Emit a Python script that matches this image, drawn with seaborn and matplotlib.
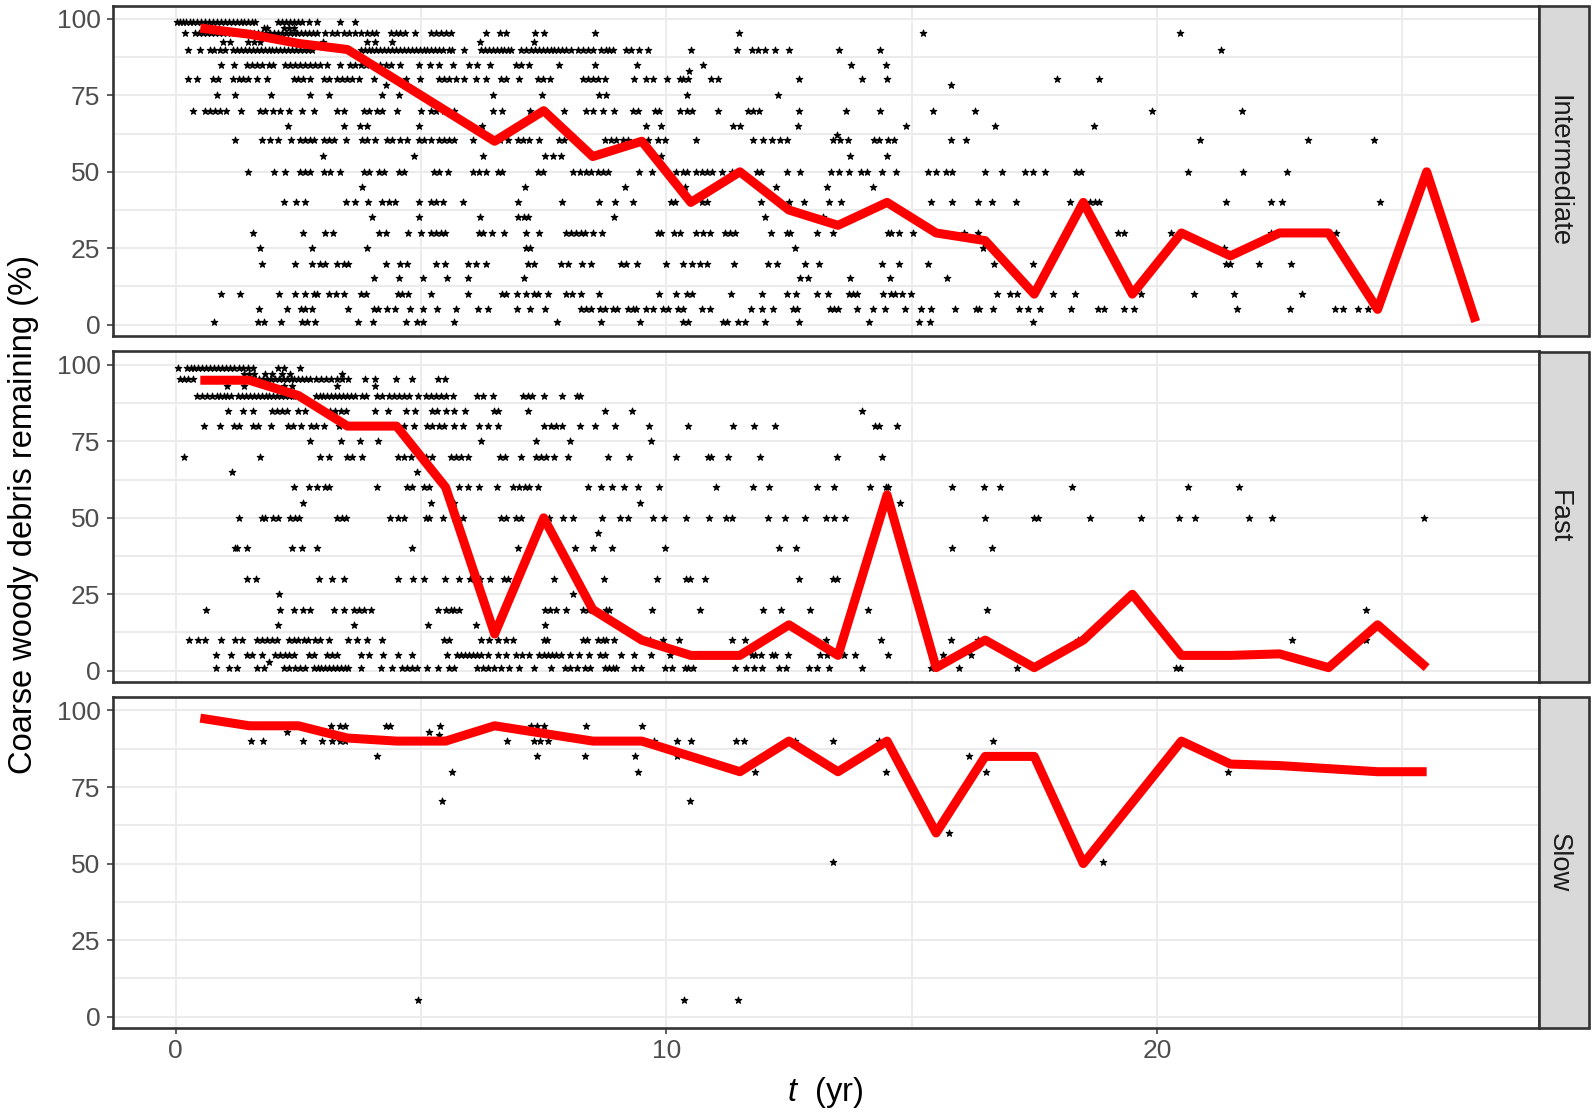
import pandas as pd
import matplotlib
matplotlib.use('Agg')
import matplotlib.pyplot as plt
from matplotlib.patches import Rectangle
import seaborn as sns

# Red line: median remaining per one-year bin
bin_int = [0.5, 1.5, 2.5, 3.5, 4.5, 5.5, 6.5, 7.5, 8.5, 9.5, 10.5, 11.5, 12.5, 13.5, 14.5, 15.5, 16.5, 17.5, 18.5, 19.5, 20.5, 21.5, 22.5, 23.5, 24.5, 25.5, 26.5]
bin_short = bin_int[:-1]
line_int = [97, 95, 92, 90, 80, 70, 60, 70, 55, 60, 40, 50, 37.5, 32.5, 40, 30, 27.5, 10, 40, 10, 30, 22.5, 30, 30, 5, 50, 1]
line_fast = [95, 95, 90, 80, 80, 60, 12, 50, 20, 10, 5, 5, 15, 5, 57.5, 1, 10, 1, 10, 25, 5, 5, 5.5, 1, 15, 1]
line_slow = [97.5, 95, 95, 91, 90, 90, 95, 92.5, 90, 90, 85, 80, 90, 80, 90, 60, 85, 85, 50, 70, 90, 82.5, 82, 81, 80, 80]

# Intermediate points, t values at each % level
int_99 = [0.02, 0.08, 0.14, 0.2, 0.28, 0.36, 0.44, 0.52, 0.6, 0.68, 0.76, 0.84, 0.92, 1.0, 1.08, 1.16, 1.24, 1.32, 1.4, 1.48, 1.56, 1.62, 2.08, 2.17, 2.25, 2.33, 2.42, 2.5, 2.58, 2.71, 2.88, 3.34, 3.66]
int_97 = [1.8, 1.86, 2.2, 2.3, 2.4]
int_95 = [0.18, 0.4, 0.48, 0.56, 0.64, 0.72, 0.8, 0.88, 0.96, 1.04, 1.12, 1.2, 1.28, 1.36, 1.44, 1.52, 1.6, 1.68, 1.76, 1.84, 1.92, 2.0, 2.08, 2.16, 2.24, 2.32, 2.4, 2.48, 2.56, 2.64, 2.72, 2.8, 2.88, 3.05, 3.19, 3.29, 3.42, 3.53, 3.66, 3.77, 3.9, 4.0, 4.09, 4.38, 4.48, 4.58, 4.67, 4.87, 5.2, 5.3, 5.4, 5.5, 5.61, 6.32, 6.6, 6.73, 7.33, 7.5, 8.54, 11.49, 15.23, 20.48]
int_92 = [0.97, 1.1, 1.48, 1.6, 1.72, 3.0, 3.9, 4.07, 4.41, 6.2, 7.3]
int_90 = [0.25, 0.5, 0.7, 0.78, 0.9, 1.0, 1.17, 1.25, 1.33, 1.41, 1.49, 1.57, 1.65, 1.73, 1.81, 1.89, 1.97, 2.05, 2.13, 2.21, 2.29, 2.37, 2.45, 2.53, 2.61, 2.69, 2.77, 3.77, 3.85, 3.93, 4.01, 4.09, 4.17, 4.25, 4.33, 4.41, 4.49, 4.57, 4.65, 4.73, 4.81, 4.89, 4.97, 5.05, 5.13, 5.21, 5.29, 5.37, 5.44, 5.57, 5.64, 5.88, 6.22, 6.3, 6.38, 6.46, 6.54, 6.62, 6.7, 6.78, 6.83, 7.04, 7.14, 7.24, 7.32, 7.4, 7.48, 7.56, 7.64, 7.72, 7.8, 7.88, 7.96, 8.06, 8.2, 8.3, 8.4, 8.5, 8.67, 8.77, 8.84, 8.92, 9.18, 9.28, 9.45, 9.62, 10.51, 11.45, 11.74, 11.86, 12.01, 12.22, 12.5, 13.53, 14.35, 21.31]
int_85 = [0.93, 1.19, 1.45, 1.55, 1.65, 1.75, 1.89, 1.99, 2.23, 2.33, 2.44, 2.54, 2.64, 2.74, 2.84, 2.95, 3.08, 3.34, 3.56, 3.66, 3.77, 3.87, 4.17, 4.28, 4.38, 4.58, 4.96, 5.18, 5.37, 5.66, 5.98, 6.15, 6.41, 6.94, 7.04, 7.21, 7.82, 8.54, 9.4, 10.75, 13.77, 14.47]
int_83 = [10.46]
int_80 = [0.25, 0.44, 0.76, 0.87, 1.17, 1.28, 1.38, 1.48, 1.65, 1.86, 2.4, 2.5, 2.6, 2.74, 3.02, 3.12, 3.29, 3.39, 3.49, 3.6, 3.73, 4.04, 4.69, 4.98, 5.37, 5.47, 5.57, 5.71, 5.88, 6.13, 6.32, 6.63, 6.73, 7.0, 7.38, 7.48, 7.62, 8.3, 8.4, 8.51, 8.61, 8.74, 9.35, 9.59, 9.73, 10.02, 10.27, 10.34, 10.44, 10.92, 11.06, 12.71, 13.99, 14.5, 17.97, 18.82]
int_78 = [4.28, 15.8]
int_75 = [0.85, 1.21, 1.94, 2.74, 3.12, 4.21, 4.55, 6.47, 7.47, 8.62, 8.76, 10.43, 12.27]
int_70 = [0.35, 0.59, 0.7, 0.8, 0.9, 1.02, 1.33, 1.72, 1.82, 1.99, 2.13, 2.3, 2.57, 2.81, 3.29, 3.42, 3.83, 3.94, 4.11, 4.21, 4.5, 5.0, 5.2, 5.3, 5.47, 5.67, 6.46, 6.64, 7.23, 7.91, 8.37, 8.51, 8.71, 8.94, 9.32, 9.42, 9.76, 9.86, 10.27, 10.43, 10.53, 11.06, 11.67, 11.77, 11.88, 12.71, 13.67, 14.35, 15.44, 16.3, 19.9, 21.73]
int_65 = [2.29, 3.42, 3.75, 3.89, 4.96, 6.24, 9.58, 9.9, 11.36, 11.5, 12.68, 14.88, 16.7, 18.72]
int_62 = [13.47]
int_60 = [1.21, 1.75, 1.92, 2.09, 2.35, 2.54, 2.64, 2.74, 2.82, 3.02, 3.12, 3.22, 3.46, 3.8, 3.9, 4.07, 4.31, 4.41, 4.58, 4.72, 4.96, 5.06, 5.2, 5.37, 5.47, 5.57, 5.67, 6.06, 6.6, 6.77, 6.97, 7.07, 7.21, 7.41, 7.82, 7.91, 8.75, 8.87, 8.98, 9.11, 9.22, 9.62, 9.83, 9.98, 10.6, 11.77, 11.98, 12.15, 12.32, 12.46, 13.39, 13.55, 13.7, 14.23, 14.33, 14.52, 14.64, 15.8, 16.11, 20.87, 23.08, 24.43]
int_55 = [3.0, 4.86, 6.27, 7.52, 7.69, 7.86, 9.9, 13.75, 14.49]
int_50 = [1.47, 2.01, 2.23, 2.54, 2.64, 2.74, 3.03, 3.15, 3.34, 3.83, 3.94, 4.14, 4.24, 4.55, 4.65, 5.27, 5.37, 5.54, 6.05, 6.19, 6.32, 6.56, 6.66, 7.38, 7.48, 8.1, 8.23, 8.37, 8.47, 8.61, 8.71, 8.81, 9.45, 9.71, 10.2, 10.34, 10.42, 10.61, 10.72, 10.82, 10.94, 11.13, 11.33, 11.84, 11.94, 12.47, 12.73, 13.36, 13.53, 13.72, 13.96, 14.09, 14.39, 14.69, 15.33, 15.49, 15.7, 15.83, 16.49, 16.84, 17.31, 17.47, 17.71, 18.36, 18.46, 20.63, 21.76, 22.65]
int_45 = [3.8, 7.11, 9.15, 10.38, 12.24, 13.27, 14.22]
int_40 = [2.21, 2.45, 2.64, 3.47, 3.65, 3.92, 4.21, 4.35, 4.46, 4.96, 5.2, 5.3, 5.44, 5.85, 6.97, 7.88, 8.63, 8.96, 9.32, 10.1, 10.17, 10.48, 10.72, 10.82, 11.94, 12.51, 12.81, 13.31, 13.56, 15.4, 15.82, 16.36, 16.63, 17.13, 18.22, 18.63, 18.74, 18.82, 21.41, 22.32, 22.56, 24.55]
int_35 = [4.0, 4.96, 6.2, 6.97, 7.09, 7.19, 8.94, 12.01, 13.19]
int_30 = [1.58, 2.59, 3.05, 3.2, 4.14, 4.28, 4.73, 5.0, 5.2, 5.3, 5.4, 5.49, 6.19, 6.26, 6.45, 6.7, 7.14, 7.41, 7.96, 8.06, 8.16, 8.27, 8.34, 8.51, 8.68, 9.83, 9.9, 10.15, 10.27, 10.61, 10.75, 10.9, 11.19, 11.3, 11.4, 12.13, 12.46, 12.52, 13.07, 13.39, 14.52, 14.57, 14.74, 15.03, 16.07, 16.36, 19.21, 19.34, 20.29, 22.32, 23.66]
int_25 = [1.71, 2.78, 3.9, 7.14, 7.22, 12.63, 16.45, 21.37]
int_20 = [1.75, 2.44, 2.78, 2.95, 3.05, 3.29, 3.42, 3.51, 4.29, 4.58, 4.71, 5.3, 5.48, 5.95, 6.13, 6.32, 7.18, 7.31, 7.86, 7.99, 8.28, 8.47, 9.08, 9.18, 9.4, 10.0, 10.34, 10.53, 10.68, 10.83, 11.38, 12.08, 12.26, 12.83, 13.12, 14.4, 14.74, 15.34, 16.68, 17.48, 21.41, 21.5, 22.08, 22.73]
int_15 = [4.04, 4.56, 5.03, 5.52, 5.95, 7.09, 12.73, 12.88, 13.75, 14.55, 15.73]
int_10 = [0.93, 1.3, 2.11, 2.44, 2.63, 2.81, 2.88, 3.12, 3.27, 3.42, 3.78, 3.87, 4.52, 4.62, 4.73, 5.2, 5.95, 6.66, 6.73, 6.95, 7.14, 7.3, 7.38, 7.58, 7.96, 8.08, 8.27, 8.63, 9.86, 10.2, 10.42, 10.53, 11.32, 11.96, 12.46, 12.64, 13.08, 13.3, 13.72, 13.8, 13.89, 14.42, 14.57, 14.67, 14.81, 14.98, 16.75, 17.01, 17.15, 17.89, 18.33, 19.68, 20.75, 21.58, 22.95]
int_5 = [1.7, 2.26, 2.55, 2.64, 2.78, 3.51, 4.04, 4.13, 4.31, 4.47, 4.77, 5.04, 5.32, 5.71, 6.17, 6.36, 6.95, 7.23, 7.52, 8.27, 8.37, 8.47, 8.64, 8.75, 8.91, 8.99, 9.22, 9.32, 9.39, 9.59, 9.73, 9.93, 10.03, 10.24, 10.34, 10.73, 10.89, 11.72, 11.96, 12.18, 12.58, 12.66, 13.34, 13.41, 13.49, 13.89, 14.22, 14.45, 14.86, 15.2, 15.39, 15.88, 16.31, 16.38, 16.65, 17.18, 17.38, 17.61, 18.25, 18.8, 18.92, 19.32, 19.53, 21.63, 22.71, 23.64, 23.79, 24.11, 24.3]
int_1 = [0.78, 1.68, 1.79, 2.15, 2.57, 2.67, 2.84, 3.71, 4.02, 4.69, 4.92, 5.03, 5.68, 7.78, 8.67, 9.47, 10.35, 10.44, 11.15, 11.23, 11.47, 11.6, 12.01, 12.71, 14.14, 15.16, 15.38, 17.48]

# Fast points
fast_99 = [0.05, 0.22, 0.3, 0.38, 0.46, 0.54, 0.62, 0.7, 0.78, 0.86, 0.95, 1.03, 1.1, 1.18, 1.28, 1.38, 1.48, 1.58, 2.09, 2.2, 2.54]
fast_97 = [1.4, 1.5, 1.6, 1.82, 1.96, 2.16, 2.33, 3.39]
fast_95 = [0.08, 0.16, 0.25, 0.35, 1.62, 1.7, 1.78, 1.86, 1.94, 2.02, 2.1, 2.18, 2.26, 2.34, 2.42, 2.5, 2.58, 2.66, 2.74, 2.86, 2.96, 3.06, 3.16, 3.29, 3.39, 3.52, 3.85, 4.06, 4.48, 4.82, 5.35, 5.49]
fast_93 = [1.04, 1.4, 2.2, 2.37, 3.29, 4.06]
fast_90 = [0.44, 0.53, 0.63, 0.73, 0.83, 0.9, 0.98, 1.05, 1.13, 1.27, 1.35, 1.43, 1.51, 1.59, 1.67, 1.75, 1.83, 1.91, 1.99, 2.07, 2.15, 2.23, 2.31, 2.39, 2.44, 2.54, 2.85, 2.93, 3.01, 3.09, 3.17, 3.25, 3.33, 3.41, 3.49, 3.57, 3.65, 3.8, 3.87, 4.11, 4.21, 4.35, 4.45, 4.55, 4.65, 4.76, 4.93, 5.1, 5.2, 5.3, 5.4, 5.51, 5.66, 6.15, 6.26, 6.47, 7.07, 7.18, 7.26, 7.5, 7.88, 8.17, 8.25]
fast_85 = [1.06, 1.36, 1.58, 1.97, 2.06, 2.16, 2.26, 2.5, 2.63, 3.02, 3.15, 3.25, 3.36, 3.46, 4.07, 4.33, 4.69, 4.87, 5.23, 5.33, 5.5, 5.68, 5.9, 6.49, 6.56, 7.19, 8.75, 9.3, 13.99]
fast_80 = [0.58, 0.9, 1.19, 1.28, 1.58, 1.68, 1.94, 2.28, 2.39, 2.56, 2.76, 2.86, 3.02, 3.32, 4.65, 4.86, 5.13, 5.23, 5.37, 5.47, 5.68, 5.85, 6.19, 6.36, 6.56, 7.5, 7.64, 7.76, 7.87, 8.23, 8.54, 8.96, 9.64, 10.44, 11.36, 11.79, 12.22, 14.26, 14.33, 14.71]
fast_75 = [2.73, 3.36, 3.75, 4.13, 6.22, 7.35, 8.03, 9.69]
fast_70 = [0.17, 1.71, 2.93, 3.12, 3.49, 3.6, 3.8, 4.53, 4.65, 4.79, 5.1, 5.23, 5.61, 5.71, 5.81, 5.96, 6.6, 6.72, 7.04, 7.35, 7.45, 7.55, 7.72, 7.99, 8.81, 9.24, 10.19, 10.85, 10.91, 11.26, 11.9, 13.47, 14.39]
fast_65 = [1.14, 4.92]
fast_60 = [2.41, 2.71, 2.88, 3.05, 3.12, 4.11, 4.72, 4.82, 5.06, 5.16, 5.78, 5.95, 6.19, 6.55, 6.87, 7.0, 7.11, 7.21, 7.38, 8.4, 8.66, 8.9, 9.13, 9.42, 9.86, 11.02, 11.77, 12.09, 13.07, 13.42, 14.16, 14.47, 14.52, 15.82, 16.47, 16.81, 18.27, 20.64, 21.68]
fast_55 = [2.59, 5.2, 5.68, 9.47, 14.76]
fast_50 = [1.29, 1.75, 1.82, 1.99, 2.09, 2.33, 2.44, 2.52, 3.29, 3.39, 3.46, 4.36, 4.52, 4.65, 5.1, 5.16, 5.44, 5.68, 5.85, 6.63, 6.73, 6.94, 7.04, 7.6, 7.89, 8.1, 8.68, 9.06, 9.22, 9.73, 9.95, 10.4, 10.87, 11.21, 11.34, 12.07, 12.42, 12.82, 13.26, 13.42, 13.65, 16.5, 17.5, 17.57, 18.63, 19.68, 20.45, 20.78, 21.87, 22.35, 25.45]
fast_45 = [8.61]
fast_40 = [1.2, 1.24, 1.45, 2.37, 2.57, 2.88, 4.81, 6.97, 8.13, 8.51, 8.89, 9.97, 12.3, 12.64, 15.82, 16.63]
fast_30 = [1.45, 1.64, 2.91, 3.19, 3.42, 4.53, 4.84, 5.06, 5.49, 5.78, 6.0, 6.2, 6.4, 6.7, 6.77, 7.71, 8.72, 9.8, 10.4, 10.49, 10.78, 12.71, 13.39, 13.48]
fast_25 = [2.11, 8.1]
fast_20 = [0.61, 2.13, 2.41, 2.59, 2.74, 3.22, 3.42, 3.63, 3.73, 3.83, 3.97, 5.35, 5.5, 5.61, 5.68, 5.78, 7.52, 7.62, 7.76, 7.96, 8.3, 8.4, 8.77, 8.84, 9.71, 10.68, 11.98, 12.34, 12.93, 14.11, 16.53, 24.27]
fast_15 = [2.09, 3.63, 5.14, 6.12, 7.52]
fast_10 = [0.27, 0.46, 0.59, 0.93, 1.21, 1.34, 1.65, 1.75, 1.86, 1.96, 2.06, 2.3, 2.4, 2.5, 2.61, 2.69, 2.84, 2.95, 3.12, 3.51, 3.7, 3.9, 4.2, 5.47, 5.57, 6.22, 6.39, 6.56, 6.73, 6.87, 7.5, 7.57, 8.3, 8.39, 8.61, 8.71, 8.77, 8.94, 9.66, 9.93, 10.25, 11.34, 11.6, 13.25, 14.37, 15.81, 16.36, 18.39, 22.75, 24.27]
fast_5 = [0.82, 1.13, 1.45, 1.55, 1.75, 2.03, 2.13, 2.23, 2.3, 2.4, 2.72, 2.82, 3.08, 3.19, 3.29, 3.77, 3.94, 4.23, 4.52, 4.82, 5.52, 5.74, 5.82, 5.9, 5.98, 6.06, 6.14, 6.23, 6.36, 6.56, 6.73, 6.94, 7.05, 7.21, 7.41, 7.5, 7.58, 7.66, 7.75, 7.85, 8.03, 8.22, 8.42, 8.64, 8.75, 9.08, 9.35, 9.69, 10.07, 11.74, 11.81, 11.94, 12.15, 12.22, 12.48, 13.14, 13.27, 13.62, 13.85, 14.52, 15.63, 16.21]
fast_3 = [1.91]
fast_1 = [0.82, 1.09, 1.24, 1.65, 1.8, 2.2, 2.3, 2.44, 2.54, 2.64, 2.81, 2.89, 2.97, 3.05, 3.13, 3.21, 3.29, 3.37, 3.45, 3.52, 3.77, 4.19, 4.41, 4.62, 4.72, 4.82, 4.92, 5.12, 5.35, 5.57, 5.68, 6.15, 6.26, 6.36, 6.49, 6.63, 6.8, 7.0, 7.31, 7.65, 7.93, 8.03, 8.17, 8.34, 8.44, 8.75, 8.84, 8.91, 8.98, 9.35, 9.49, 9.98, 10.12, 10.38, 10.44, 10.55, 11.4, 11.62, 11.79, 11.96, 12.29, 12.44, 12.9, 13.07, 13.31, 13.99, 15.39, 15.97, 17.14, 20.39, 20.48]

# Slow points
slow_95 = [3.17, 3.34, 3.44, 4.28, 4.37, 5.39, 7.24, 7.36, 7.5, 8.37, 9.5]
slow_93 = [2.26, 5.16]
slow_92 = [5.37]
slow_90 = [1.53, 1.78, 2.6, 2.99, 3.18, 3.34, 3.44, 6.75, 7.3, 7.42, 7.59, 9.75, 10.22, 10.51, 11.42, 11.58, 12.62, 13.4, 14.33, 16.66]
slow_85 = [4.1, 7.36, 8.35, 9.37, 10.22, 16.18]
slow_80 = [5.63, 9.43, 11.8, 14.48, 16.51, 21.44]
slow_70 = [5.43, 10.49]
slow_60 = [15.76]
slow_50 = [13.4, 18.9]
slow_5 = [4.94, 10.37, 11.46]


def points(*levels):
    rows = [(t, pct) for pct, ts in levels for t in ts]
    return pd.DataFrame(rows, columns=['t', 'pct'])


pts_int = points((99, int_99), (97, int_97), (95.4, int_95), (92.5, int_92), (90, int_90), (85, int_85), (83, int_83),
                 (80.4, int_80), (78.3, int_78), (75, int_75), (70, int_70), (65, int_65), (62, int_62), (60.3, int_60),
                 (55.2, int_55), (50, int_50), (45, int_45), (40, int_40), (35.3, int_35), (30, int_30), (25, int_25),
                 (20, int_20), (15.3, int_15), (10, int_10), (5, int_5), (1, int_1))
pts_fast = points((99, fast_99), (97, fast_97), (95.4, fast_95), (93, fast_93), (90, fast_90), (85, fast_85), (80, fast_80),
                  (75, fast_75), (70, fast_70), (65, fast_65), (60, fast_60), (55, fast_55), (50, fast_50), (45, fast_45),
                  (40, fast_40), (30, fast_30), (25, fast_25), (20, fast_20), (15, fast_15), (10, fast_10), (5, fast_5),
                  (3, fast_3), (1, fast_1))
pts_slow = points((95, slow_95), (93, slow_93), (92, slow_92), (90, slow_90), (85, slow_85), (80, slow_80),
                  (70.5, slow_70), (60, slow_60), (50.5, slow_50), (5.5, slow_5))

panels = [('Intermediate', pts_int, bin_int, line_int, 5.5, 336),
          ('Fast', pts_fast, bin_short, line_fast, 351.5, 682),
          ('Slow', pts_slow, bin_short, line_slow, 697, 1028)]

sns.set_theme(style='white')
plt.rcParams['font.family'] = ['Liberation Sans', 'DejaVu Sans']
plt.rcParams['mathtext.fontset'] = 'custom'
plt.rcParams['mathtext.it'] = 'Liberation Sans:italic'
plt.rcParams['mathtext.rm'] = 'Liberation Sans'

W, H = 1594, 1115
fig = plt.figure(figsize=(W / 100, H / 100), dpi=100)
left, right, strip_right = 113, 1539, 1589

for i, (name, pts, bx, by, top, bottom) in enumerate(panels):
    ax = fig.add_axes([left / W, 1 - bottom / H, (right - left) / W, (bottom - top) / H])
    ax.set_axisbelow(True)
    for v in [12.5, 37.5, 62.5, 87.5, 0, 25, 50, 75, 100]:
        ax.axhline(v, color='#EBEBEB', lw=1.5, zorder=0)
    for v in [0, 5, 10, 15, 20, 25]:
        ax.axvline(v, color='#EBEBEB', lw=1.3, zorder=0)
    sns.scatterplot(data=pts, x='t', y='pct', marker='*', s=24, color='black', edgecolor='black', linewidth=0.8, ax=ax, zorder=2)
    sns.lineplot(x=bx, y=by, color='#FF0000', lw=6.5, errorbar=None, ax=ax, zorder=3, solid_capstyle='butt')
    ax.set_xlim(-1.28, 27.79)
    ax.set_ylim(-3.7, 104.4)
    ax.set_xlabel('')
    ax.set_ylabel('')
    ax.set_yticks([0, 25, 50, 75, 100])
    ax.tick_params(axis='y', length=4, width=1.1, color='#333333', labelcolor='#4D4D4D', labelsize=19, pad=5, left=True)
    if i == 2:
        ax.set_xticks([0, 10, 20])
        ax.tick_params(axis='x', length=4, width=1.1, color='#333333', labelcolor='#4D4D4D', labelsize=19, pad=4, bottom=True)
    else:
        ax.set_xticks([])
    for s in ax.spines.values():
        s.set_visible(True)
        s.set_color('#333333')
        s.set_linewidth(1.9)
    # facet strip on the right
    fig.add_artist(Rectangle((right / W, 1 - bottom / H), (strip_right - right) / W, (bottom - top) / H,
                             transform=fig.transFigure, facecolor='#D9D9D9', edgecolor='#333333', lw=1.9))
    fig.text(1559 / W, 1 - (top + bottom) / 2 / H, name, rotation=270, ha='center', va='center',
             fontsize=19.7, color='#1A1A1A')

fig.text(24 / W, 1 - 515 / H, 'Coarse woody debris remaining (%)', rotation=90, ha='center', va='center', fontsize=23.5, color='black')
fig.text(825 / W, 1 - 1093 / H, r'$t$  (yr)', ha='center', va='center', fontsize=23.5, color='black')

plt.savefig('out.png', dpi=100)
